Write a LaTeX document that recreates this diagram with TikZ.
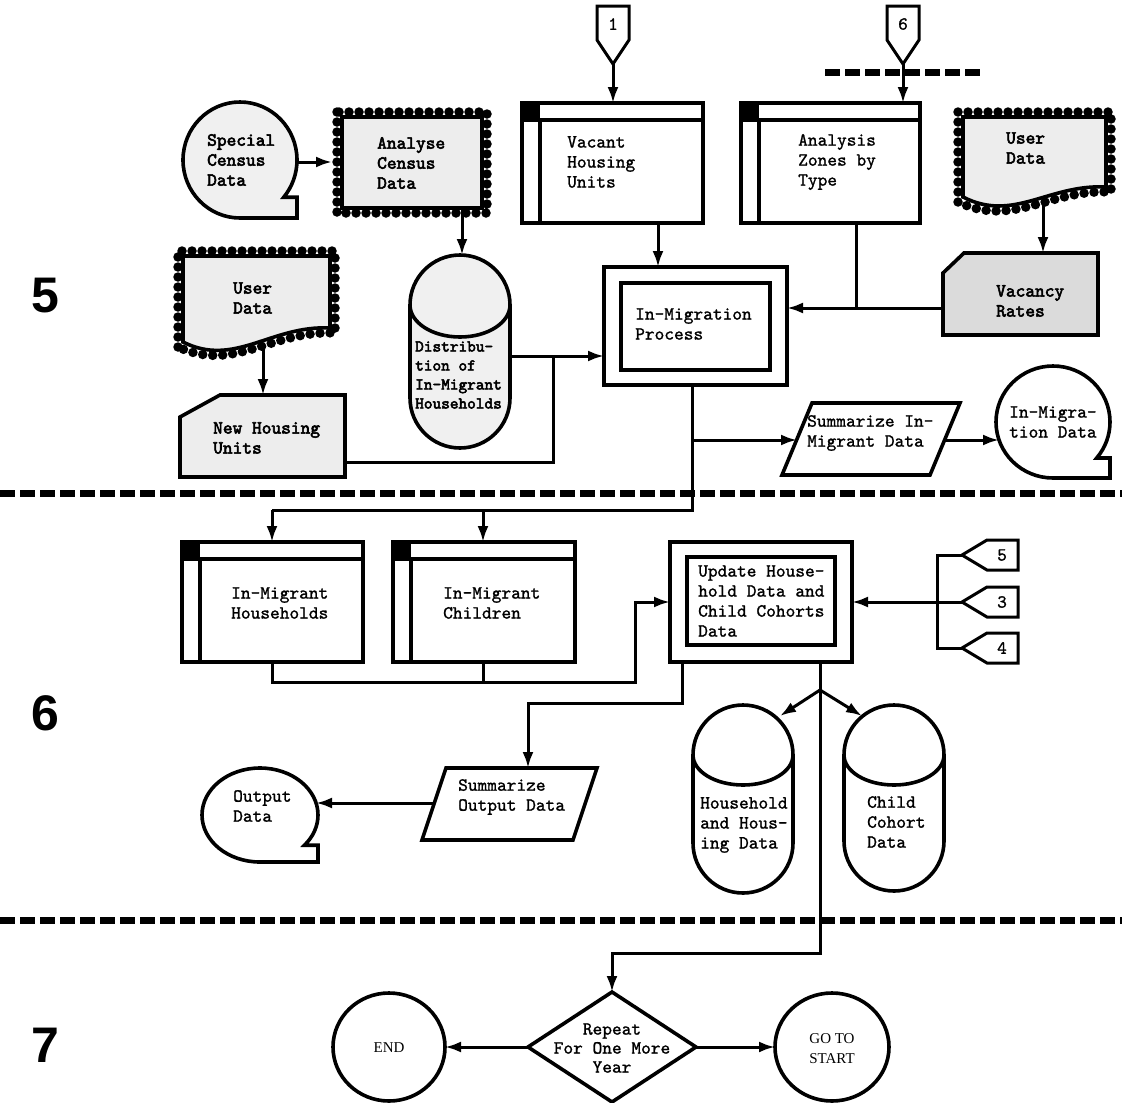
\documentclass[tikz,border=0pt]{standalone}
\usepackage{fontspec}
\usetikzlibrary{arrows.meta}
\newfontfamily\tw{lmmono10-regular.otf}[FakeBold=1.2]
\newfontfamily\twb{lmmono10-regular.otf}[FakeBold=3]
\newfontfamily\secfont{Liberation Sans}
\newfontfamily\romfont{Liberation Serif}

% circle with a tape tab at the lower right
\newcommand\tapeshape[5]{%
  \draw[#1] (#2,{#3+#5}) arc[start angle=90,end angle=400,x radius=#4,y radius=#5]
    -- ({#2+#4},{#3+#5*sin(40)}) -- ({#2+#4},{#3+#5}) -- cycle;}
% vertical drum: left x, top y, width, bottom y, depth of the front rim
\newcommand\cylshape[6]{%
  \draw[#1] (#2,{#3+#4/2}) arc[start angle=180,end angle=360,radius={#4/2}]
    -- ({#2+#4},{#5-#4/2}) arc[start angle=0,end angle=180,radius={#4/2}] -- cycle;
  \draw[shp] (#2,{#3+#4/2}) arc[start angle=180,end angle=0,x radius={#4/2},y radius=#6];}
% file box with header bar, index strip and black corner
\newcommand\tabbox[4]{%
  \fill (#1,#2) rectangle ({#1+18},{#2+17});
  \draw[shp] (#1,#2) rectangle (#3,#4);
  \draw[shp] (#1,{#2+17}) -- (#3,{#2+17});
  \draw[shp] ({#1+18},{#2+17}) -- ({#1+18},#4);}
% punched card with clipped top-left corner
\newcommand\cardshape[7]{%
  \draw[#1] ({#2+#6},#3) -- (#4,#3) -- (#4,#5) -- (#2,#5) -- (#2,{#3+#7}) -- cycle;}
% document with wavy bottom and perforated border
\newcommand\docshape[5]{%
  \draw[stamp] ({#1-5},{#4+5}) -- ({#1-5},{#2-5}) -- ({#3+5},{#2-5}) -- ({#3+5},{#5+5})
     .. controls ({#3-0.4*(#3-#1)},{#5+2}) and ({#1+0.35*(#3-#1)},{#4+31}) .. ({#1-5},{#4+5});
  \draw[shp,fill=black!7] (#1,#4) -- (#1,#2) -- (#3,#2) -- (#3,#5)
     .. controls ({#3-0.4*(#3-#1)},{#5-3}) and ({#1+0.35*(#3-#1)},{#4+26}) .. (#1,#4) -- cycle;}
% off-page connectors
\newcommand\pagedown[1]{%
  \draw[con] ({#1-16},6) -- ({#1+16},6) -- ({#1+16},40) -- (#1,64) -- ({#1-16},40) -- cycle;}
\newcommand\pageleft[2]{%
  \draw[con] (#1,#2) -- ({#1+25},{#2-15}) -- ({#1+56},{#2-15}) -- ({#1+56},{#2+15}) -- ({#1+25},{#2+15}) -- cycle;}

\tikzset{
  shp/.style={line width=3.6pt},
  con/.style={line width=3pt},
  arr/.style={con,-{Latex[length=16pt,width=11pt]}},
  stamp/.style={line width=9.5pt,line cap=round,dash pattern=on 0pt off 10pt},
  sep/.style={line width=7pt,dash pattern=on 15pt off 5pt},
  lbl/.style={font=\tw\fontsize{18.5}{20}\selectfont,align=left,inner sep=0pt,anchor=west},
  lblb/.style={font=\twb\fontsize{18.5}{20}\selectfont,align=left,inner sep=0pt,anchor=west},
  lblc/.style={font=\tw\fontsize{18.5}{19}\selectfont,align=center,inner sep=0pt},
  rom/.style={font=\romfont\fontsize{15}{20}\selectfont,align=center,inner sep=0pt},
  sec/.style={font=\secfont\bfseries\fontsize{50}{50}\selectfont,inner sep=0pt},
}

\begin{document}
\begin{tikzpicture}[x=1pt,y=-1pt]
\useasboundingbox (0,0) rectangle (1122,1103);
\fill[white] (0,0) rectangle (1122,1103);

% ---------- stage separators and stage numbers ----------
\coordinate (sepT-w) at (825,72);  \coordinate (sepT-e) at (981,72);
\coordinate (sepA-w) at (0,493);   \coordinate (sepA-e) at (1122,493);
\coordinate (sepB-w) at (0,920);   \coordinate (sepB-e) at (1122,920);
\draw[sep] (sepT-w) -- (sepT-e);
\draw[sep] (sepA-w) -- (sepA-e);
\draw[sep] (sepB-w) -- (sepB-e);
\node[sec] (stage5) at (45,296) {5};
\node[sec] (stage6) at (45,713) {6};
\node[sec] (stage7) at (45,1045) {7};

% ---------- stage 5 ----------
\pagedown{613}
\node[lblc] (pg1) at (613,24) {1};
\coordinate (pg1-tip) at (613,64);
\pagedown{903}
\node[lblc] (pg6) at (903,24) {6};
\coordinate (pg6-tip) at (903,64);

\tapeshape{shp,fill=black!6}{240}{160}{57}{58}
\node[lblb] (census) at (207,160) {Special\\Census\\Data};
\coordinate (census-e) at (297,162);

\draw[stamp] (337,112) rectangle (487,213);
\draw[shp,fill=black!7] (342,117) rectangle (482,208);
\node[lblb] (analyse) at (377,163) {Analyse\\Census\\Data};
\coordinate (analyse-w) at (332,162);
\coordinate (analyse-s) at (462,208);

\tabbox{522}{103}{703}{223}
\node[lbl] (vacant) at (567,162) {Vacant\\Housing\\Units};
\coordinate (vacant-n) at (613,103);
\coordinate (vacant-s) at (658,223);

\tabbox{741}{103}{920}{223}
\node[lbl] (zones) at (798,162) {Analysis\\Zones by\\Type};
\coordinate (zones-n) at (903,103);
\coordinate (zones-s) at (856,223);

\docshape{963}{117}{1106}{197}{187}
\node[lblb] (userR) at (1006,148) {User\\Data};
\coordinate (userR-s) at (1043,200);

\cardshape{shp,fill=black!14}{943}{253}{1098}{335}{21}{20}
\node[lblb] (vacancy) at (996,301) {Vacancy\\Rates};
\coordinate (vacancy-n) at (1043,253);
\coordinate (vacancy-w) at (943,308);

\draw[shp] (604,267) rectangle (787,385);
\draw[shp] (621,283) rectangle (770,370);
\node[lbl] (inmig) at (635,324) {In-Migration\\Process};
\coordinate (inmig-n) at (658,267);
\coordinate (inmig-e) at (787,308);
\coordinate (inmig-w) at (604,356);
\coordinate (inmig-s) at (692,385);
\coordinate (zones-j) at (856,308);

\docshape{183}{256}{330}{342}{328}
\node[lblb] (userL) at (233,298) {User\\Data};
\coordinate (userL-s) at (263,348);

\cardshape{shp,fill=black!7}{180}{395}{345}{477}{40}{22}
\node[lblb] (newhu) at (213,438) {New Housing\\Units};
\coordinate (newhu-n) at (263,395);
\coordinate (newhu-e) at (345,462);
\coordinate (newhu-j) at (553,462);

\cylshape{shp,fill=black!6}{410}{255}{100}{448}{32}
\node[lblb,font=\twb\fontsize{16.5}{19}\selectfont] (distrib) at (415,375) {Distribu-\\tion of\\In-Migrant\\Households};
\coordinate (distrib-n) at (462,255);
\coordinate (distrib-e) at (510,356);
\coordinate (distrib-j) at (553,356);

\draw[shp] (812,403) -- (960,403) -- (930,475) -- (782,475) -- cycle;
\node[lbl] (sumin) at (807,433) {Summarize In-\\Migrant Data};
\coordinate (sumin-w) at (797,440);
\coordinate (sumin-e) at (945,440);
\coordinate (inmig-j) at (692,440);

\tapeshape{shp}{1053}{422}{57}{56}
\node[lbl] (inmigdata) at (1009,422) {In-Migra-\\tion Data};
\coordinate (inmigdata-w) at (999,440);

% stage 5 connectors
\draw[arr] (pg1-tip) -- (vacant-n);
\draw[arr] (pg6-tip) -- (zones-n);
\draw[arr] (census-e) -- (analyse-w);
\draw[arr] (analyse-s) -- (distrib-n);
\draw[arr] (userR-s) -- (vacancy-n);
\draw[arr] (vacancy-w) -- (inmig-e);
\draw[con] (zones-s) -- (zones-j);
\draw[arr] (vacant-s) -- (inmig-n);
\draw[arr] (userL-s) -- (newhu-n);
\draw[arr] (distrib-e) -- (inmig-w);
\draw[con] (newhu-e) -- (newhu-j) -- (distrib-j);
\draw[arr] (inmig-j) -- (sumin-w);
\draw[arr] (sumin-e) -- (inmigdata-w);

% ---------- stage 6 ----------
\coordinate (split-e) at (692,510);
\coordinate (split-w) at (272,510);
\coordinate (split-m) at (483,510);

\tabbox{182}{542}{363}{662}
\node[lbl] (hh) at (231,603) {In-Migrant\\Households};
\coordinate (hh-n) at (272,542);
\coordinate (hh-s) at (272,662);

\tabbox{393}{542}{575}{662}
\node[lbl] (ch) at (443,603) {In-Migrant\\Children};
\coordinate (ch-n) at (483,542);
\coordinate (ch-s) at (483,662);

\draw[shp] (670,542) rectangle (852,662);
\draw[shp] (687,557) rectangle (835,645);
\node[lbl] (update) at (698,601) {Update House-\\hold Data and\\Child Cohorts\\Data};
\coordinate (update-w) at (670,602);
\coordinate (update-e) at (852,602);
\coordinate (update-s1) at (682,662);
\coordinate (update-s2) at (820,662);

\pageleft{962}{555}
\node[lblc] (pg5) at (1002,555) {5};
\coordinate (pg5-tip) at (962,555);
\pageleft{962}{602}
\node[lblc] (pg3) at (1002,602) {3};
\coordinate (pg3-tip) at (962,602);
\pageleft{962}{648}
\node[lblc] (pg4) at (1002,648) {4};
\coordinate (pg4-tip) at (962,648);

\draw[shp] (446,768) -- (597,768) -- (573,840) -- (422,840) -- cycle;
\node[lbl] (sumout) at (458,797) {Summarize\\Output Data};
\coordinate (sumout-n) at (528,768);
\coordinate (sumout-w) at (434,803);

\tapeshape{shp}{260}{815}{58}{47}
\node[lbl] (outdata) at (233,806) {Output\\Data};
\coordinate (outdata-e) at (316,803);

\cylshape{shp}{693}{705}{100}{893}{30}
\node[lbl] (hhdata) at (700,825) {Household\\and Hous-\\ing Data};
\coordinate (hhdata-n) at (780,716);
\cylshape{shp}{844}{705}{100}{891}{30}
\node[lbl] (chdata) at (867,822) {Child\\Cohort\\Data};
\coordinate (chdata-n) at (862,716);
\coordinate (fork) at (820,690);

% stage 6 connectors
\draw[con] (inmig-s) -- (split-e) -- (split-w);
\draw[arr] (split-w) -- (hh-n);
\draw[arr] (split-m) -- (ch-n);
\draw[arr] (hh-s) -- (272,682) -- (635,682) -- (635,602) -- (update-w);
\draw[con] (ch-s) -- (483,682);
\draw[con] (pg5-tip) -- (937,555) -- (937,648) -- (pg4-tip);
\draw[arr] (pg3-tip) -- (update-e);
\draw[arr] (update-s1) -- (682,703) -- (528,703) -- (sumout-n);
\draw[arr] (sumout-w) -- (outdata-e);
\draw[arr] (fork) -- (hhdata-n);
\draw[arr] (fork) -- (chdata-n);

% ---------- stage 7 ----------
\draw[shp] (612,992) -- (696,1047) -- (612,1102) -- (528,1047) -- cycle;
\node[lblc] (repeat) at (612,1048) {Repeat\\For One More\\Year};
\coordinate (repeat-n) at (612,992);
\coordinate (repeat-w) at (528,1047);
\coordinate (repeat-e) at (696,1047);

\draw[shp] (389,1047) ellipse[x radius=56,y radius=54];
\node[rom] (endnode) at (389,1048) {END};
\coordinate (end-e) at (445,1047);

\draw[shp] (832,1047) ellipse[x radius=57,y radius=54];
\node[rom] (gostart) at (832,1049) {GO TO\\START};
\coordinate (go-w) at (775,1047);

\draw[arr] (update-s2) -- (820,953) -- (612,953) -- (repeat-n);
\draw[arr] (repeat-w) -- (end-e);
\draw[arr] (repeat-e) -- (go-w);
\end{tikzpicture}
\end{document}
